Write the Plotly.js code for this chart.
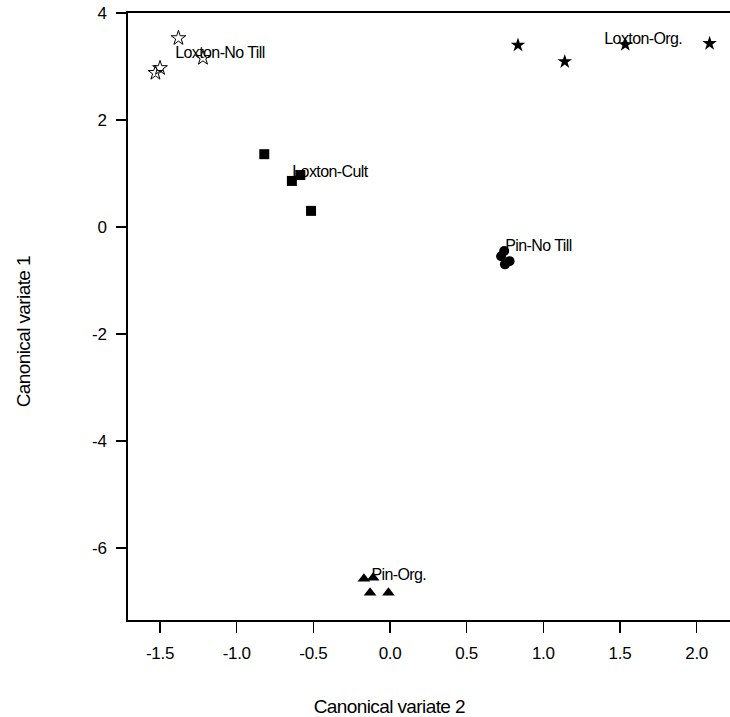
<!DOCTYPE html>
<html>
<head>
<meta charset="utf-8">
<script src="https://cdn.plot.ly/plotly-3.0.1.min.js"></script>
<style>
html,body{margin:0;padding:0;background:#fff;}
#chart{width:730px;height:717px;}
#chart .annotation-text{letter-spacing:-0.6px;}
#chart .xtick text, #chart .ytick text{letter-spacing:-0.3px;}
</style>
</head>
<body>
<div id="chart"></div>
<script>
// Canonical variate 2 (x) and Canonical variate 1 (y) per treatment group
const groups = ["Loxton-No Till", "Loxton-Org.", "Loxton-Cult", "Pin-No Till", "Pin-Org."];
const loxtonNoTillX = [-1.38, -1.22, -1.50, -1.53];
const loxtonNoTillY = [3.53, 3.16, 2.97, 2.88];
const loxtonOrgX = [0.835, 1.14, 1.535, 2.085];
const loxtonOrgY = [3.40, 3.09, 3.41, 3.43];
const loxtonCultX = [-0.82, -0.585, -0.64, -0.515];
const loxtonCultY = [1.36, 0.97, 0.86, 0.30];
const pinNoTillX = [0.745, 0.725, 0.75, 0.78];
const pinNoTillY = [-0.45, -0.55, -0.70, -0.64];
const pinOrgX = [-0.17, -0.11, -0.13, -0.01];
const pinOrgY = [-6.58, -6.56, -6.84, -6.84];
// group label anchor points (data units)
const labelX = [-1.40, 1.40, -0.635, 0.757, -0.111];
const labelY = [3.27, 3.53, 1.03, -0.34, -6.50];
// tick labels
const xTickVals = [-1.5, -1.0, -0.5, 0.0, 0.5, 1.0, 1.5, 2.0];
const xTickText = ["-1.5", "-1.0", "-0.5", "0.0", "0.5", "1.0", "1.5", "2.0"];
const yTickVals = [-6, -4, -2, 0, 2, 4];
const yTickText = ["-6", "-4", "-2", "0", "2", "4"];

const font = "Liberation Sans, Arial, sans-serif";
const xs = [loxtonNoTillX, loxtonOrgX, loxtonCultX, pinNoTillX, pinOrgX];
const ys = [loxtonNoTillY, loxtonOrgY, loxtonCultY, pinNoTillY, pinOrgY];
const symbols = ["star-open", "star", "square", "circle", "triangle-up"];
const sizes = [11, 11, 10, 10, 11];

const traces = groups.map((g, i) => ({
  type: "scatter", mode: "markers", name: g,
  x: xs[i], y: ys[i],
  marker: {symbol: symbols[i], size: sizes[i], color: "#000",
           line: {color: "#000", width: symbols[i] === "star-open" ? 1 : 0}},
  hoverinfo: "skip"
}));

const annotations = groups.map((g, i) => ({
  x: labelX[i], y: labelY[i], xref: "x", yref: "y", text: g,
  showarrow: false, xanchor: "left", yanchor: "middle", xshift: -6,
  font: {family: font, size: 16, color: "#000"}
}));
annotations.push({
  text: "Canonical variate 2", xref: "paper", yref: "paper",
  x: 0.435, y: (620 - 706) / 607, xanchor: "center", yanchor: "middle",
  showarrow: false, font: {family: font, size: 19, color: "#000"}
});
annotations.push({
  text: "Canonical variate 1", xref: "paper", yref: "paper", textangle: -90,
  x: (23 - 128) / 602, y: (620 - 332) / 607, xanchor: "center", yanchor: "middle",
  showarrow: false, font: {family: font, size: 19, color: "#000"}
});

const layout = {
  width: 730, height: 717,
  margin: {l: 128, r: 0, t: 13, b: 97, pad: 0},
  paper_bgcolor: "#fff", plot_bgcolor: "#fff",
  showlegend: false,
  font: {family: font, size: 16, color: "#000"},
  xaxis: {
    range: [-1.709, 2.218], showgrid: false, zeroline: false,
    showline: true, linecolor: "#000", linewidth: 2, mirror: true,
    ticks: "outside", ticklen: 11, tickwidth: 1.5, tickcolor: "#000",
    tickmode: "array", tickvals: xTickVals, ticktext: xTickText,
    tickfont: {family: font, size: 17, color: "#000"}, ticklabelstandoff: 6
  },
  yaxis: {
    range: [-7.35, 4.0], showgrid: false, zeroline: false,
    showline: true, linecolor: "#000", linewidth: 2,
    ticks: "outside", ticklen: 10, tickwidth: 1.5, tickcolor: "#000",
    tickmode: "array", tickvals: yTickVals, ticktext: yTickText,
    tickfont: {family: font, size: 17, color: "#000"}, ticklabelstandoff: 6
  },
  annotations: annotations
};

Plotly.newPlot("chart", traces, layout, {displayModeBar: false, staticPlot: true});
</script>
</body>
</html>
